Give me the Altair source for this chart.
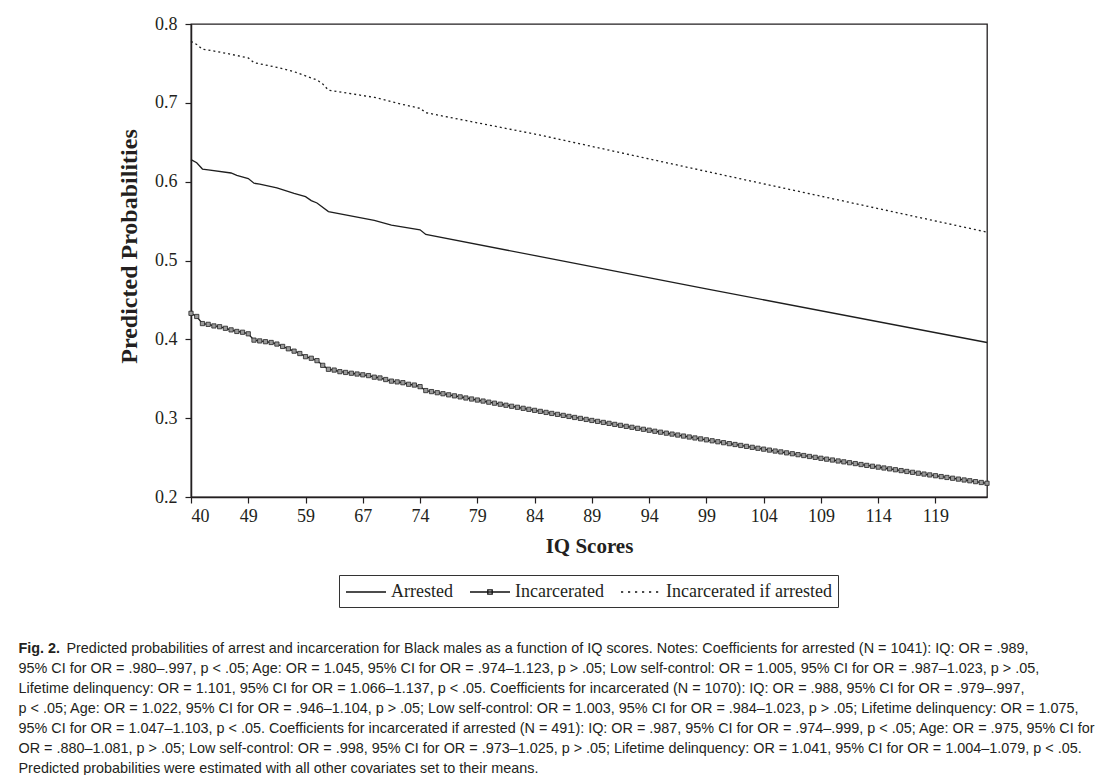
import json
import altair as alt
import pandas as pd

# ---------------- data ----------------
series_names = ["Arrested", "Incarcerated", "Incarcerated if arrested"]

# category axis: each IQ category occupies one slot; labels shown every 10th slot
tick_index = [0, 10, 20, 30, 40, 50, 60, 70, 80, 90, 100, 110, 120, 130]
tick_labels = ["40", "49", "59", "67", "74", "79", "84", "89", "94", "99",
               "104", "109", "114", "119"]

category_index = list(range(140))

incarcerated = [
    0.433, 0.429, 0.420, 0.419, 0.417, 0.416, 0.414, 0.412, 0.410, 0.409,
    0.407, 0.399, 0.398, 0.397, 0.396, 0.394, 0.391, 0.388, 0.385, 0.382,
    0.378, 0.376, 0.373, 0.367, 0.362, 0.361, 0.359, 0.358, 0.357, 0.356,
    0.355, 0.354, 0.352, 0.351, 0.349, 0.347, 0.346, 0.345, 0.343, 0.342,
    0.340, 0.3350, 0.3337, 0.3323, 0.3310, 0.3296, 0.3283, 0.3270, 0.3256, 0.3243,
    0.3230, 0.3217, 0.3203, 0.3190, 0.3177, 0.3164, 0.3151, 0.3138, 0.3125, 0.3112,
    0.3099, 0.3086, 0.3073, 0.3060, 0.3048, 0.3035, 0.3022, 0.3009, 0.2997, 0.2984,
    0.2971, 0.2959, 0.2946, 0.2934, 0.2921, 0.2909, 0.2896, 0.2884, 0.2871, 0.2859,
    0.2847, 0.2834, 0.2822, 0.2810, 0.2798, 0.2786, 0.2773, 0.2761, 0.2749, 0.2737,
    0.2725, 0.2713, 0.2701, 0.2689, 0.2677, 0.2666, 0.2654, 0.2642, 0.2630, 0.2618,
    0.2607, 0.2595, 0.2583, 0.2572, 0.2560, 0.2549, 0.2537, 0.2526, 0.2514, 0.2503,
    0.2491, 0.2480, 0.2469, 0.2457, 0.2446, 0.2435, 0.2424, 0.2412, 0.2401, 0.2390,
    0.2379, 0.2368, 0.2357, 0.2346, 0.2335, 0.2324, 0.2313, 0.2302, 0.2291, 0.2280,
    0.2270, 0.2259, 0.2248, 0.2238, 0.2227, 0.2216, 0.2206, 0.2195, 0.2184, 0.2174,
]

arrested_index = [0, 1, 2, 3, 7, 8, 10, 11, 12, 15, 18, 20, 21, 22, 24, 32, 35, 40, 41, 61, 90, 139]
arrested = [0.628, 0.624, 0.616, 0.615, 0.611, 0.608, 0.604, 0.598, 0.597, 0.592,
            0.585, 0.581, 0.576, 0.573, 0.562, 0.551, 0.545, 0.539, 0.533, 0.505,
            0.464, 0.396]

if_arrested_index = [0, 1, 2, 3, 6, 10, 11, 15, 18, 22, 23, 24, 32, 36, 40, 41, 61, 90, 139]
if_arrested = [0.778, 0.774, 0.768, 0.767, 0.763, 0.757, 0.751, 0.745, 0.7395, 0.729,
               0.724, 0.716, 0.707, 0.6995, 0.693, 0.6875, 0.659, 0.613, 0.536]

caption_title = "Fig. 2."
caption_lines = [
    "Predicted probabilities of arrest and incarceration for Black males as a function of IQ scores. Notes: Coefficients for arrested (N = 1041): IQ: OR = .989,",
    "95% CI for OR = .980\u2013.997, p < .05; Age: OR = 1.045, 95% CI for OR = .974\u20131.123, p > .05; Low self-control: OR = 1.005, 95% CI for OR = .987\u20131.023, p > .05,",
    "Lifetime delinquency: OR = 1.101, 95% CI for OR = 1.066\u20131.137, p < .05. Coefficients for incarcerated (N = 1070): IQ: OR = .988, 95% CI for OR = .979\u2013.997,",
    "p < .05; Age: OR = 1.022, 95% CI for OR = .946\u20131.104, p > .05; Low self-control: OR = 1.003, 95% CI for OR = .984\u20131.023, p > .05; Lifetime delinquency: OR = 1.075,",
    "95% CI for OR = 1.047\u20131.103, p < .05. Coefficients for incarcerated if arrested (N = 491): IQ: OR = .987, 95% CI for OR = .974\u2013.999, p < .05; Age: OR = .975, 95% CI for",
    "OR = .880\u20131.081, p > .05; Low self-control: OR = .998, 95% CI for OR = .973\u20131.025, p > .05; Lifetime delinquency: OR = 1.041, 95% CI for OR = 1.004\u20131.079, p < .05.",
    "Predicted probabilities were estimated with all other covariates set to their means.",
]

# ---------------- table ----------------
rows = []
for i, v in zip(arrested_index, arrested):
    rows.append({"idx": i, "p": v, "series": series_names[0]})
for i, v in zip(category_index, incarcerated):
    rows.append({"idx": i, "p": v, "series": series_names[1]})
for i, v in zip(if_arrested_index, if_arrested):
    rows.append({"idx": i, "p": v, "series": series_names[2]})
df = pd.DataFrame(rows)

# ---------------- styling ----------------
INK = "#231f20"
SERIF = "Liberation Serif, Times New Roman, serif"
CAPFONT = "Liberation Sans, Arial, sans-serif"
CAPSIZE = 14.4

# indent the first caption line so the bold "Fig. 2." sits in front of it
# (zero-width space keeps the no-break spaces from being trimmed)
subtitle_lines = ["\u200b" + "\u00a0" * 12 + caption_lines[0]] + caption_lines[1:]

label_expr = (
    json.dumps(tick_labels) + "[indexof(" + json.dumps(tick_index) + ", datum.value)]"
)

x_enc = alt.X(
    "idx:Q",
    scale=alt.Scale(domain=[0, 139], nice=False, zero=False),
    axis=alt.Axis(
        values=tick_index, labelExpr=label_expr, title="IQ Scores",
        labelFont=SERIF, labelFontSize=18, labelColor=INK, labelPadding=4,
        titleFont=SERIF, titleFontSize=21, titleFontWeight="bold", titleColor=INK,
        titlePadding=10, tickSize=6, tickColor=INK, tickWidth=1.2,
        domainColor=INK, domainWidth=1.5, grid=False,
    ),
)
y_enc = alt.Y(
    "p:Q",
    scale=alt.Scale(domain=[0.2, 0.8], nice=False, zero=False),
    axis=alt.Axis(
        values=[0.2, 0.3, 0.4, 0.5, 0.6, 0.7, 0.8], format=".1f",
        title="Predicted Probabilities",
        labelFont=SERIF, labelFontSize=18, labelColor=INK, labelPadding=8,
        titleFont=SERIF, titleFontSize=24, titleFontWeight="bold", titleColor=INK,
        titlePadding=13, titleY=222, tickSize=6, tickColor=INK, tickWidth=1.2,
        domainColor=INK, domainWidth=1.5, grid=False,
    ),
)

base = alt.Chart(df)

solid_lines = (
    base.transform_filter(alt.datum.series != series_names[2])
    .mark_line(color="#1e1e1e", strokeWidth=1.3)
    .encode(x=x_enc, y=y_enc, detail="series:N")
)

dotted_line = (
    base.transform_filter(alt.datum.series == series_names[2])
    .mark_line(color="#1e1e1e", strokeWidth=1.3, strokeDash=[2, 3])
    .encode(x=x_enc, y=y_enc)
)

squares = (
    base.transform_filter(alt.datum.series == series_names[1])
    .mark_square(size=18, fill="#9a9a9a", stroke="#222222", strokeWidth=0.8, opacity=1)
    .encode(x=x_enc, y=y_enc)
)

legend_paths = [
    "M-1,0H3",
    "M-1,0H3M0.78,-0.22H1.22V0.22H0.78Z",
    "M-1,0H-0.78M-0.3,0H-0.08M0.4,0H0.62M1.1,0H1.32M1.8,0H2.02M2.5,0H2.72",
]

# invisible points that only carry the legend
legend_layer = (
    base.mark_point(color="black", strokeWidth=1.3, opacity=0)
    .encode(
        x=x_enc,
        y=y_enc,
        shape=alt.Shape(
            "series:N",
            scale=alt.Scale(domain=series_names, range=legend_paths),
            legend=alt.Legend(
                title=None, orient="none", legendX=148, legendY=551,
                direction="horizontal", strokeColor="#333333", padding=6,
                symbolSize=400, symbolStrokeWidth=1.3, symbolStrokeColor="#111111",
                symbolOpacity=1,
                labelFont=SERIF, labelFontSize=18, labelColor=INK,
                labelOffset=24, columnPadding=14, labelLimit=400,
            ),
        ),
    )
)

chart = (
    alt.layer(solid_lines, dotted_line, squares, legend_layer)
    .properties(
        width=796,
        height=473,
        padding={"left": 10, "top": 7, "right": 0, "bottom": 0},
        title=alt.TitleParams(
            text=caption_title,
            subtitle=subtitle_lines,
            orient="bottom",
            anchor="start",
            frame="bounds",
            dx=-99,
            offset=34,
            font=CAPFONT,
            fontSize=CAPSIZE,
            fontWeight="bold",
            color=INK,
            subtitleFont=CAPFONT,
            subtitleFontSize=CAPSIZE,
            subtitleFontWeight="normal",
            subtitleColor=INK,
            subtitleLineHeight=20,
            subtitlePadding=-CAPSIZE,
        ),
    )
    .configure_view(stroke=INK, strokeWidth=1.3)
)

chart.save("out.html", embed_options={"renderer": "svg", "actions": False})
